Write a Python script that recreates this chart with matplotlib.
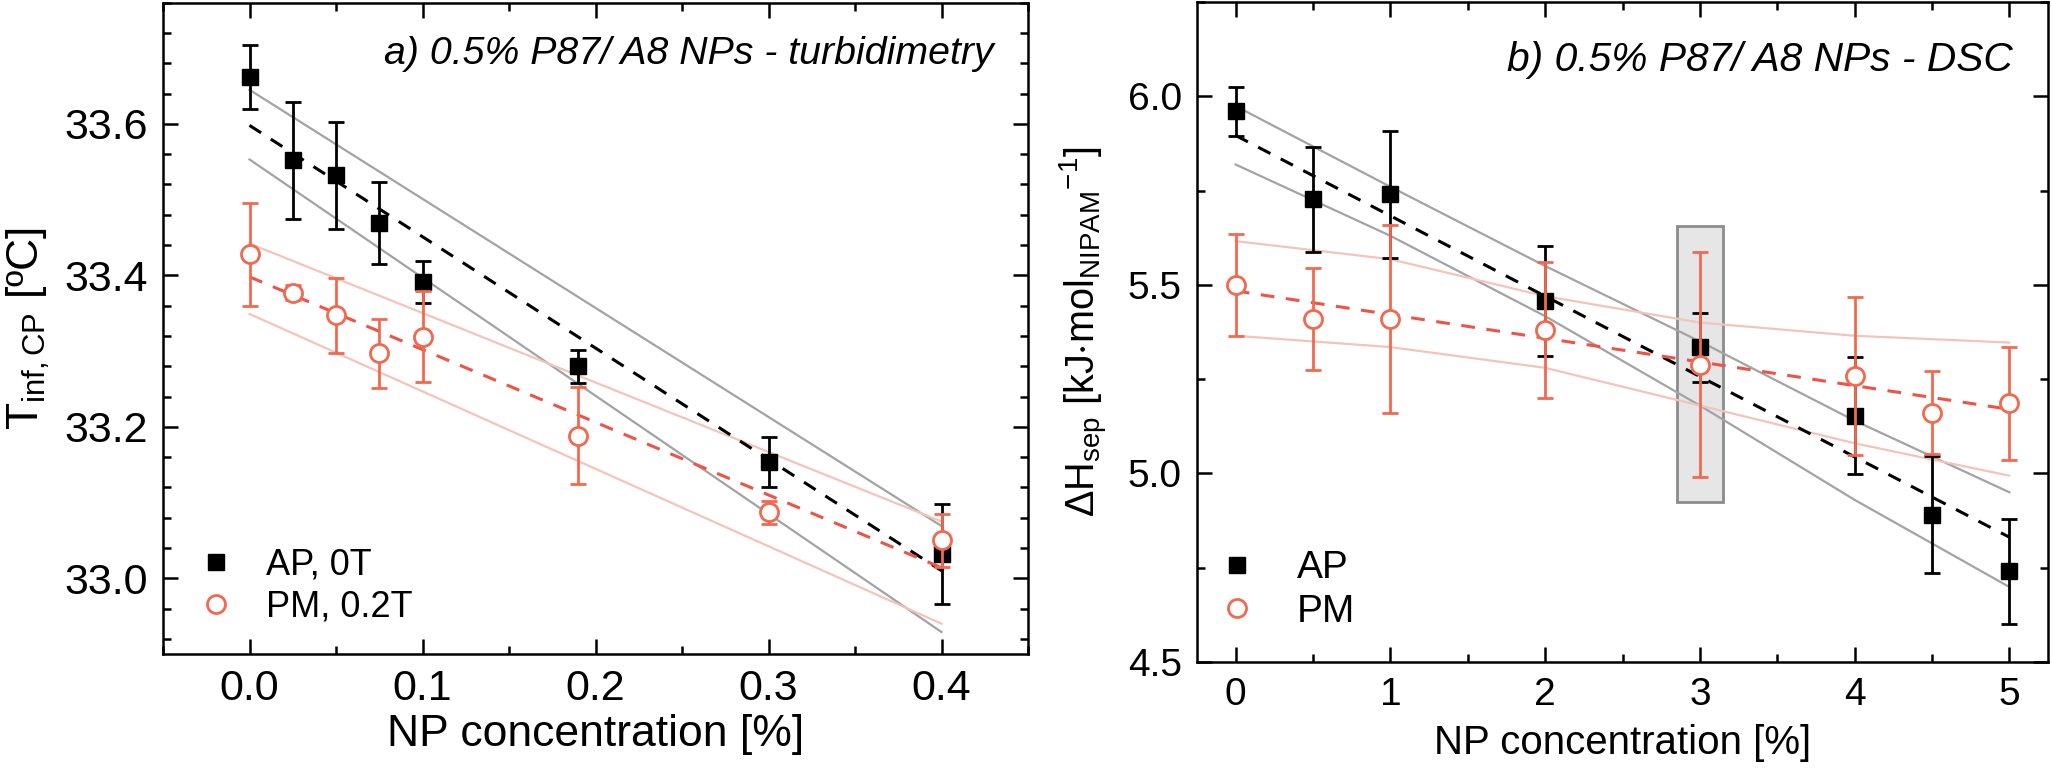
import matplotlib
matplotlib.use('Agg')
import matplotlib.pyplot as plt
from matplotlib.ticker import AutoMinorLocator, MultipleLocator
from matplotlib.patches import Rectangle
from matplotlib.lines import Line2D

plt.rcParams['font.family'] = ['Liberation Sans', 'DejaVu Sans']
plt.rcParams['mathtext.fontset'] = 'custom'
plt.rcParams['mathtext.rm'] = 'Liberation Sans'
plt.rcParams['mathtext.it'] = 'Liberation Sans:italic'
plt.rcParams['mathtext.default'] = 'regular'

RED = '#F2694F'
RED_LINE = '#EE5347'
PINK = '#F3C4BB'
GRAY = '#A3A3A3'

# ---- panel a: turbidimetry ----
conc_a = [0.0, 0.025, 0.05, 0.075, 0.1, 0.19, 0.3, 0.4]
ap_a = [33.662, 33.552, 33.532, 33.469, 33.391, 33.280, 33.154, 33.032]
ap_a_err = [0.042, 0.077, 0.071, 0.054, 0.028, 0.022, 0.033, 0.066]
pm_a = [33.428, 33.377, 33.347, 33.297, 33.319, 33.188, 33.087, 33.050]
pm_a_err = [0.068, 0.010, 0.050, 0.046, 0.060, 0.064, 0.015, 0.035]

fit_a_x = [0.0, 0.4]
ap_a_fit = [33.598, 33.010]
ap_a_hi = [33.645, 33.069]
ap_a_lo = [33.553, 32.929]
pm_a_fit = [33.398, 33.014]
pm_a_hi = [33.442, 33.075]
pm_a_lo = [33.349, 32.940]

# ---- panel b: DSC ----
conc_b = [0, 0.5, 1, 2, 3, 4, 4.5, 5]
ap_b = [5.960, 5.727, 5.740, 5.458, 5.334, 5.153, 4.890, 4.740]
ap_b_err = [0.065, 0.139, 0.168, 0.146, 0.091, 0.155, 0.155, 0.139]
pm_b = [5.500, 5.409, 5.409, 5.380, 5.288, 5.259, 5.161, 5.186]
pm_b_err = [0.135, 0.136, 0.250, 0.180, 0.298, 0.210, 0.110, 0.150]

fit_b_x = [0, 5]
ap_b_fit = [5.896, 4.831]
pm_b_fit = [5.484, 5.170]
band_b_x = [0, 1, 2, 3, 4, 5]
ap_b_hi = [5.974, 5.760, 5.550, 5.350, 5.140, 4.950]
ap_b_lo = [5.819, 5.630, 5.417, 5.180, 4.930, 4.699]
pm_b_hi = [5.616, 5.568, 5.470, 5.400, 5.365, 5.347]
pm_b_lo = [5.365, 5.335, 5.280, 5.180, 5.080, 4.994]

box_x = (2.85, 3.15)
box_y = (4.923, 5.656)


def style_axis(ax, fs):
    for s in ax.spines.values():
        s.set_linewidth(1.8)
    ax.tick_params(which='both', direction='in', top=True, right=True, width=1.8)
    ax.tick_params(which='major', length=11, labelsize=fs, pad=11)
    ax.tick_params(which='minor', length=5.5)


def draw_series(ax, x, ap, ap_err, pm, pm_err):
    ax.errorbar(x, ap, yerr=ap_err, fmt='s', color='black', ms=12, elinewidth=2,
                capsize=6, capthick=2, zorder=5)
    ax.errorbar(x, pm, yerr=pm_err, fmt='o', color=RED, mfc='white', mec=RED,
                mew=2, ms=13, elinewidth=2, capsize=6, capthick=2, zorder=6)


def legend_handles():
    h_ap = Line2D([], [], ls='none', marker='s', color='black', ms=12)
    h_pm = Line2D([], [], ls='none', marker='o', mfc='white', mec=RED, mew=2, ms=13)
    return [h_ap, h_pm]


def fit_width(fig, txt, target_px):
    # scale font so the title spans the same width as in the original figure
    r = fig.canvas.get_renderer()
    w = txt.get_window_extent(r).width
    txt.set_fontsize(txt.get_fontsize() * target_px / w)


fig = plt.figure(figsize=(20.52, 7.68), dpi=100)
ax1 = fig.add_axes([163 / 2052, 114 / 768, 865 / 2052, 651.3 / 768])
ax2 = fig.add_axes([1197 / 2052, 106 / 768, 851 / 2052, 660 / 768])

# panel a
ax1.plot(fit_a_x, ap_a_hi, color=GRAY, lw=1.6, zorder=2)
ax1.plot(fit_a_x, ap_a_lo, color=GRAY, lw=1.6, zorder=2)
ax1.plot(fit_a_x, pm_a_hi, color=PINK, lw=1.6, zorder=2)
ax1.plot(fit_a_x, pm_a_lo, color=PINK, lw=1.6, zorder=2)
ax1.plot(fit_a_x, ap_a_fit, color='black', lw=2.2, dashes=(4.5, 3.8), zorder=3)
ax1.plot(fit_a_x, pm_a_fit, color=RED_LINE, lw=2.2, dashes=(4.5, 3.8), zorder=3)
draw_series(ax1, conc_a, ap_a, ap_a_err, pm_a, pm_a_err)

ax1.set_xlim(-0.05, 0.45)
ax1.set_ylim(32.9, 33.76)
ax1.xaxis.set_major_locator(MultipleLocator(0.1))
ax1.xaxis.set_minor_locator(AutoMinorLocator(2))
ax1.yaxis.set_major_locator(MultipleLocator(0.2))
ax1.yaxis.set_minor_locator(AutoMinorLocator(5))
style_axis(ax1, 31)
ax1.set_xlabel('NP concentration [%]', fontsize=32)
ax1.xaxis.set_label_coords(0.5, -0.092)
ax1.set_ylabel(r'T$_{inf,CP}$ [ºC]', fontsize=32)
ax1.yaxis.set_label_coords(-0.128, 0.5)
title1 = ax1.text(0.96, 0.949, 'a) 0.5% P87/ A8 NPs - turbidimetry', transform=ax1.transAxes,
                  ha='right', va='top', fontsize=27, style='italic')
ax1.legend(legend_handles(), ['AP, 0T', 'PM, 0.2T'], loc='center left',
           bbox_to_anchor=(0.04, 0.104), frameon=False, fontsize=26, borderpad=0,
           borderaxespad=0, handletextpad=0.9, labelspacing=0.2, handlelength=1.0)

# panel b
ax2.add_patch(Rectangle((box_x[0], box_y[0]), box_x[1] - box_x[0], box_y[1] - box_y[0],
                        facecolor='#E6E6E6', edgecolor='#8C8C8C', lw=2, zorder=1))
ax2.plot(band_b_x, ap_b_hi, color=GRAY, lw=1.6, zorder=2)
ax2.plot(band_b_x, ap_b_lo, color=GRAY, lw=1.6, zorder=2)
ax2.plot(band_b_x, pm_b_hi, color=PINK, lw=1.6, zorder=2)
ax2.plot(band_b_x, pm_b_lo, color=PINK, lw=1.6, zorder=2)
ax2.plot(fit_b_x, ap_b_fit, color='black', lw=2.2, dashes=(4.5, 3.8), zorder=3)
ax2.plot(fit_b_x, pm_b_fit, color=RED_LINE, lw=2.2, dashes=(4.5, 3.8), zorder=3)
draw_series(ax2, conc_b, ap_b, ap_b_err, pm_b, pm_b_err)

ax2.set_xlim(-0.25, 5.25)
ax2.set_ylim(4.5, 6.25)
ax2.xaxis.set_major_locator(MultipleLocator(1))
ax2.xaxis.set_minor_locator(AutoMinorLocator(2))
ax2.yaxis.set_major_locator(MultipleLocator(0.5))
ax2.yaxis.set_minor_locator(AutoMinorLocator(2))
style_axis(ax2, 28)
ax2.set_xlabel('NP concentration [%]', fontsize=29)
ax2.xaxis.set_label_coords(0.5, -0.094)
ax2.set_ylabel(r'$\Delta$H$_{sep}$ [kJ$\cdot$mol$_{NIPAM}$$^{-1}$]', fontsize=28.5)
ax2.yaxis.set_label_coords(-0.102, 0.5)
title2 = ax2.text(0.958, 0.941, 'b) 0.5% P87/ A8 NPs - DSC', transform=ax2.transAxes,
                  ha='right', va='top', fontsize=26, style='italic')
ax2.legend(legend_handles(), ['AP', 'PM'], loc='center left',
           bbox_to_anchor=(0.024, 0.109), frameon=False, fontsize=28, borderpad=0,
           borderaxespad=0, handletextpad=1.04, labelspacing=0.2, handlelength=1.0)

fit_width(fig, title1, 610)
fit_width(fig, title2, 506)

fig.savefig('out.png', dpi=100)
